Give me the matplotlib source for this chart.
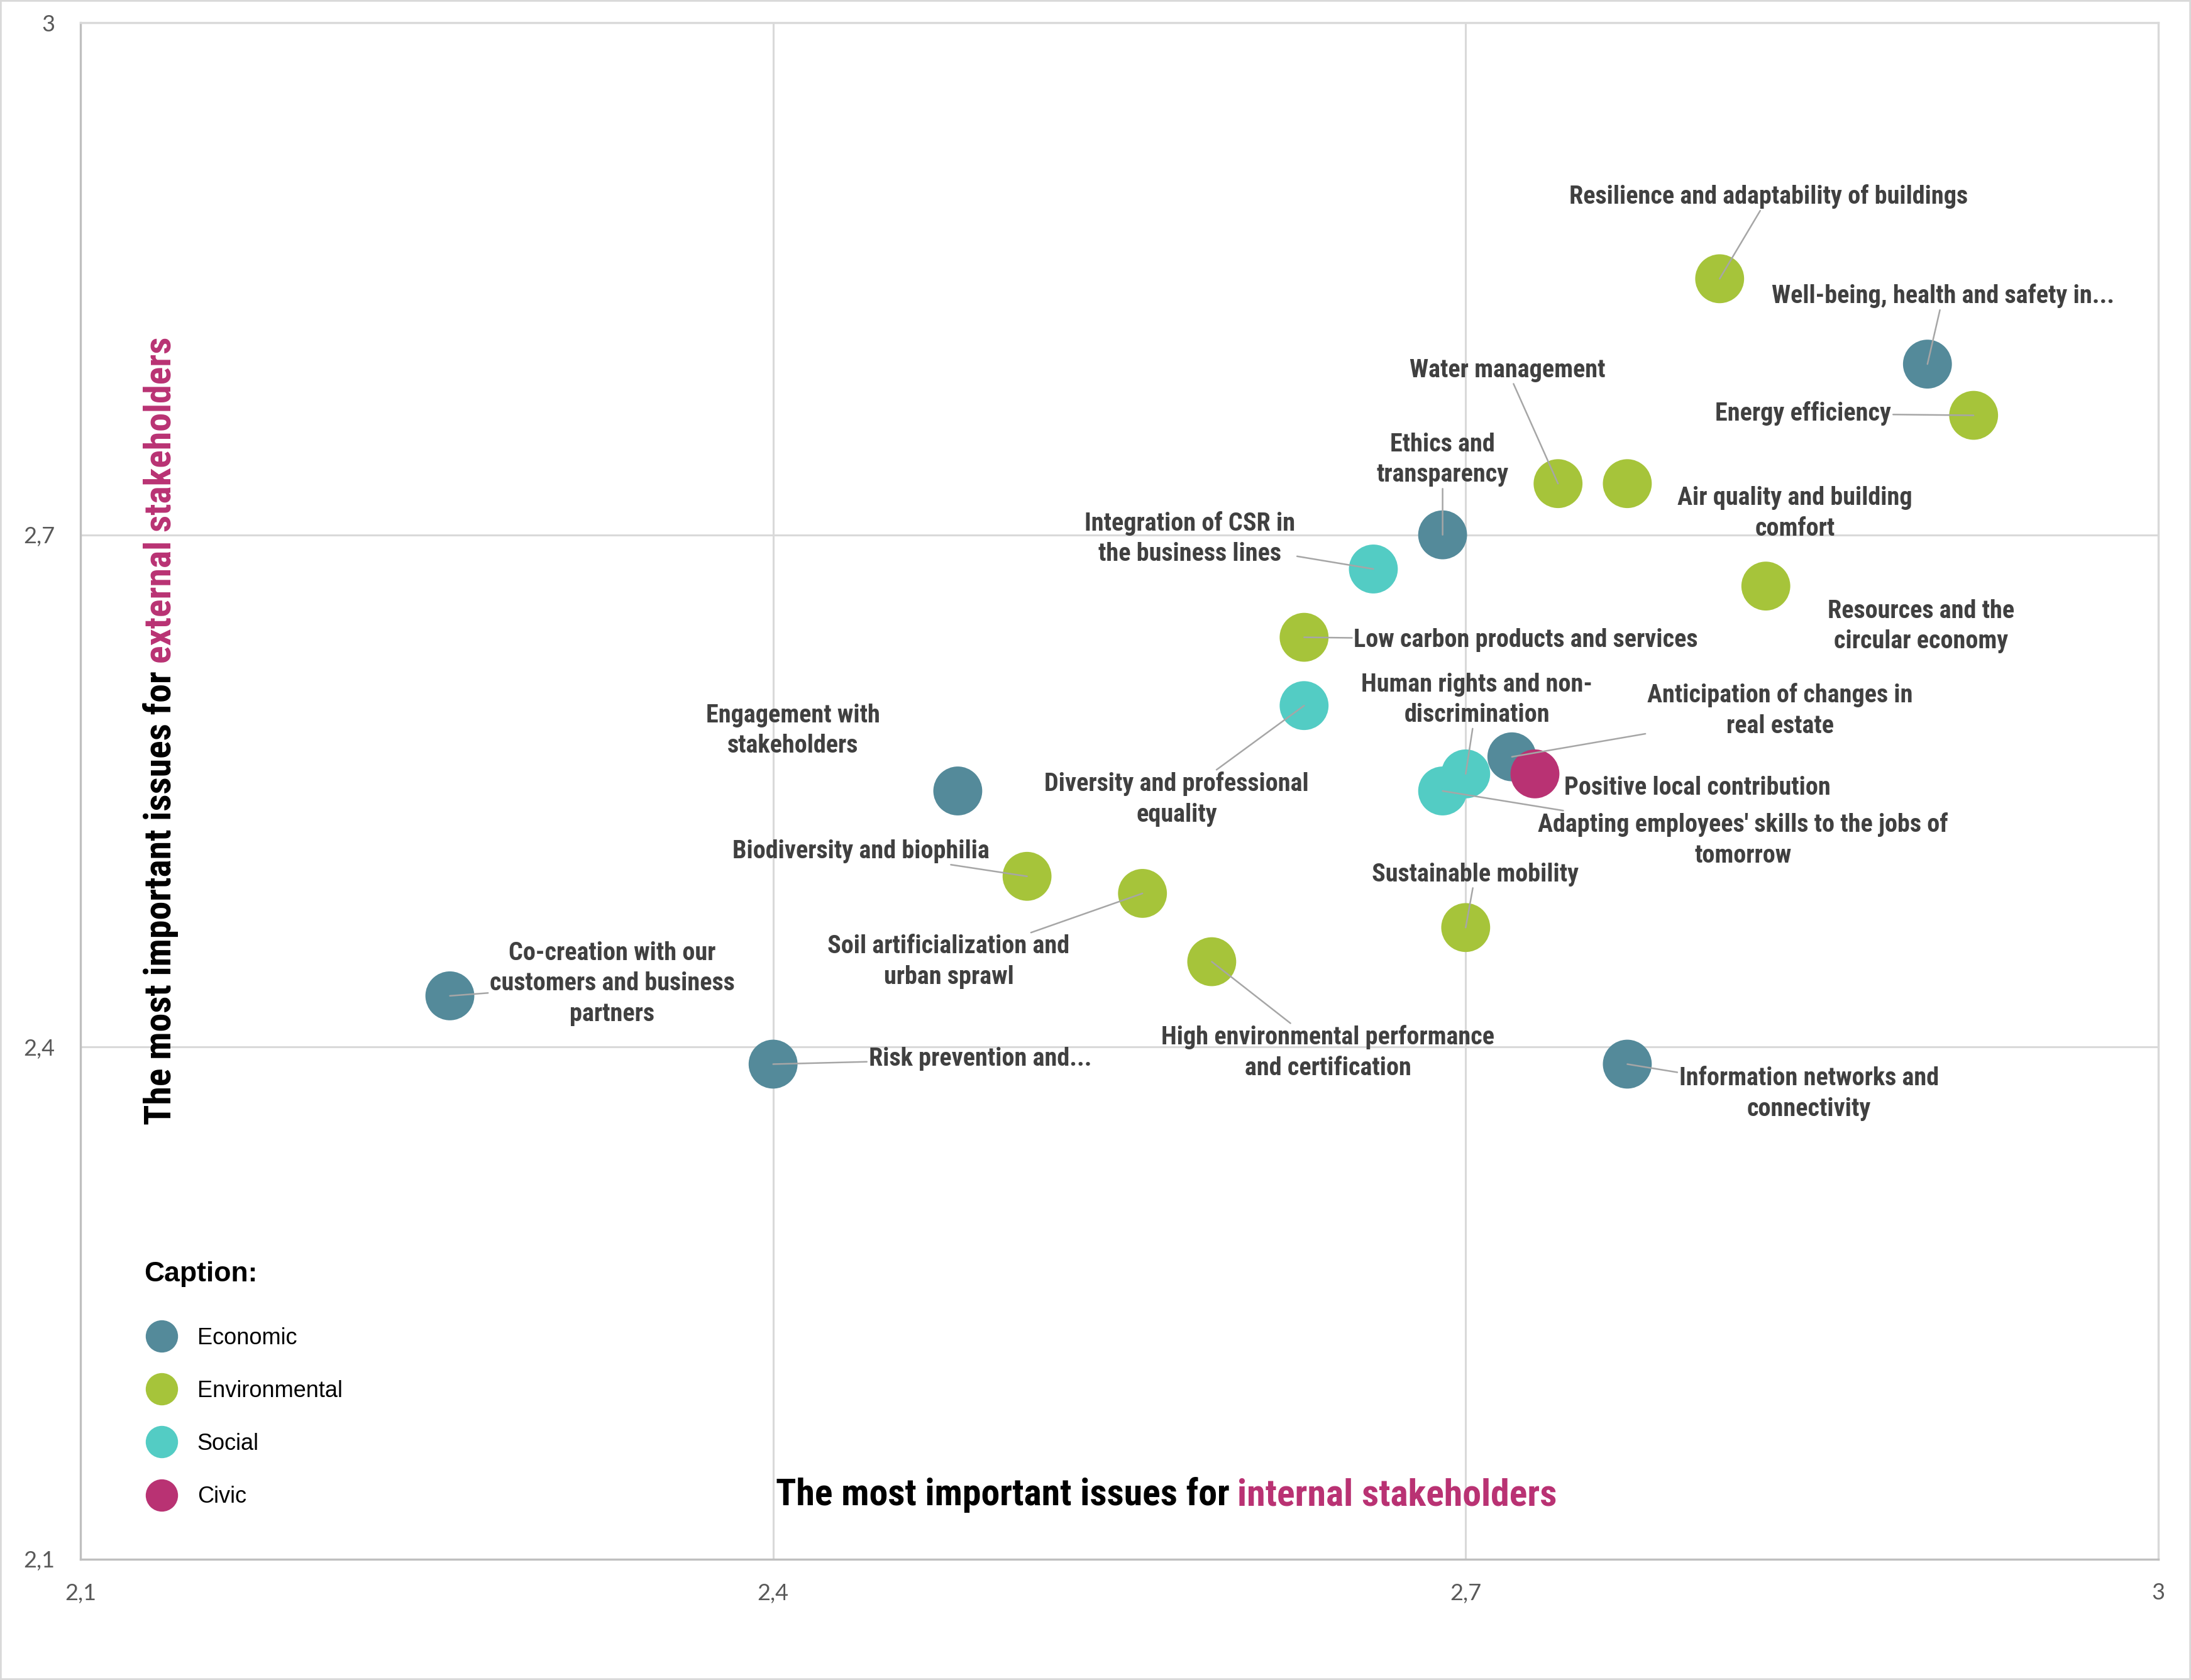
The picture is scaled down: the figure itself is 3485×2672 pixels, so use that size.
import matplotlib.pyplot as plt
from matplotlib.lines import Line2D
from matplotlib.patches import Rectangle
from matplotlib.ticker import FixedLocator, FuncFormatter

# materiality matrix: internal (x) vs external (y) score
issues = [
    "Resilience and adaptability of buildings",
    "Well-being, health and safety in...",
    "Energy efficiency",
    "Water management",
    "Air quality and building\ncomfort",
    "Ethics and\ntransparency",
    "Integration of CSR in\nthe business lines",
    "Resources and the\ncircular economy",
    "Low carbon products and services",
    "Diversity and professional\nequality",
    "Human rights and non-\ndiscrimination",
    "Adapting employees' skills to the jobs of\ntomorrow",
    "Anticipation of changes in\nreal estate",
    "Positive local contribution",
    "Engagement with\nstakeholders",
    "Biodiversity and biophilia",
    "Soil artificialization and\nurban sprawl",
    "Sustainable mobility",
    "High environmental performance\nand certification",
    "Co-creation with our\ncustomers and business\npartners",
    "Risk prevention and...",
    "Information networks and\nconnectivity",
]
category = [
    "Environmental", "Economic", "Environmental", "Environmental", "Environmental",
    "Economic", "Social", "Environmental", "Environmental", "Social",
    "Social", "Social", "Economic", "Civic", "Economic",
    "Environmental", "Environmental", "Environmental", "Environmental", "Economic",
    "Economic", "Economic",
]
internal = [2.81, 2.90, 2.92, 2.74, 2.77, 2.69, 2.66, 2.83, 2.63, 2.63, 2.70,
            2.69, 2.72, 2.73, 2.48, 2.51, 2.56, 2.70, 2.59, 2.26, 2.40, 2.77]
external = [2.85, 2.80, 2.77, 2.73, 2.73, 2.70, 2.68, 2.67, 2.64, 2.60, 2.56,
            2.55, 2.57, 2.56, 2.55, 2.50, 2.49, 2.47, 2.45, 2.43, 2.39, 2.39]

cat_names = ["Economic", "Environmental", "Social", "Civic"]
ticks = [2.1, 2.4, 2.7, 3.0]

# styling
cat_colors = {"Economic": "#548A9A", "Environmental": "#A6C43A",
              "Social": "#53CCC4", "Civic": "#B93273"}
magenta = "#B93273"
narrow = ["Roboto Condensed", "Roboto", "DejaVu Sans"]
regular = ["Liberation Sans", "DejaVu Sans"]

# label offsets from the point (points) and whether a leader line is drawn
label_offsets = [(56, 94), (18, 78), (-195, 2), (-58, 130), (192, -34), (0, 86),
                 (-210, 35), (178, -46), (254, -3), (-146, -107), (13, 85),
                 (344, -56), (307, 53), (186, -16), (-189, 69), (-190, 29),
                 (-222, -78), (11, 61), (133, -104), (186, 14), (237, 6), (208, -34)]
no_leader = {"Air quality and building\ncomfort", "Resources and the\ncircular economy",
             "Positive local contribution", "Engagement with\nstakeholders"}

W, H = 3485, 2672
fig = plt.figure(figsize=(W / 100, H / 100), dpi=100)
ax = fig.add_axes([128 / W, (H - 2480) / H, (3433 - 128) / W, (2480 - 36) / H])

for cat in cat_names:
    xs = [x for x, c in zip(internal, category) if c == cat]
    ys = [y for y, c in zip(external, category) if c == cat]
    ax.scatter(xs, ys, s=56 ** 2, color=cat_colors[cat], edgecolors="none", zorder=2)

for name, x, y, off in zip(issues, internal, external, label_offsets):
    arrow = None
    if name not in no_leader:
        arrow = dict(arrowstyle="-", color="#A6A6A6", lw=1.8, shrinkA=0, shrinkB=0)
    ax.annotate(name, xy=(x, y), xytext=off, textcoords="offset points",
                ha="center", va="center", multialignment="center",
                fontsize=29, fontweight="bold", color="#404040", family=narrow,
                linespacing=1.35, arrowprops=arrow, zorder=4)

ax.set_xlim(2.1, 3.0)
ax.set_ylim(2.1, 3.0)
fmt = FuncFormatter(lambda v, p: f"{v:g}".replace(".", ","))
for axis in (ax.xaxis, ax.yaxis):
    axis.set_major_locator(FixedLocator(ticks))
    axis.set_major_formatter(fmt)
ax.tick_params(length=0, labelsize=26, labelcolor="#595959")
ax.tick_params(axis="x", pad=27)
ax.tick_params(axis="y", pad=29)
for lab in ax.get_xticklabels() + ax.get_yticklabels():
    lab.set_family(["Lato", "DejaVu Sans"])

ax.grid(True, color="#D9D9D9", lw=2.2)
ax.set_axisbelow(True)
for side in ("left", "bottom"):
    ax.spines[side].set_color("#BFBFBF")
    ax.spines[side].set_linewidth(2.4)
for side in ("top", "right"):
    ax.spines[side].set_color("#D9D9D9")
    ax.spines[side].set_linewidth(2.4)

# axis titles, two colours each
tx = fig.text(1234 / W, 1 - 2378 / H, "The most important issues for", ha="left", va="center",
              fontsize=43, fontweight="bold", family=narrow, color="black")
ax.annotate("internal stakeholders", xy=(1, 0), xycoords=tx, xytext=(9, 0),
            textcoords="offset points", ha="left", va="bottom",
            fontsize=43, fontweight="bold", family=narrow, color=magenta)
ty = fig.text(256 / W, 1 - 1789 / H, "The most important issues for", ha="center", va="bottom",
              rotation=90, fontsize=43, fontweight="bold", family=narrow, color="black")
ax.annotate("external stakeholders", xy=(0.5, 1), xycoords=ty, xytext=(0, 9),
            textcoords="offset points", ha="center", va="bottom", rotation=90,
            fontsize=43, fontweight="bold", family=narrow, color=magenta)

handles = [Line2D([], [], ls="none", marker="o", ms=37, mfc=cat_colors[c], mec="none", label=c)
           for c in cat_names]
leg = ax.legend(handles=handles, title="Caption:", loc="upper left",
                bbox_to_anchor=(229 / W, 1 - 2006 / H), bbox_transform=fig.transFigure,
                frameon=False, borderpad=0, borderaxespad=0, handlelength=1.55,
                handletextpad=0.8, labelspacing=1.36, alignment="left",
                prop={"family": regular, "size": 26},
                title_fontproperties={"family": regular, "size": 32, "weight": "bold"})
leg._legend_box.sep = 46

fig.patches.append(Rectangle((0, 0), 1, 1, transform=fig.transFigure, fill=False,
                             edgecolor="#D9D9D9", lw=4, figure=fig))

fig.savefig("out.png", dpi=100, facecolor="white")
